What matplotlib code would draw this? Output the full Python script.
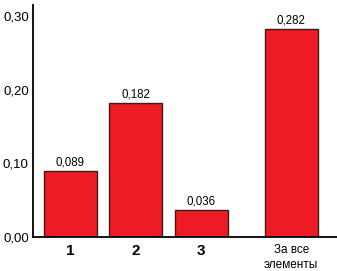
import matplotlib.pyplot as plt

plt.rcParams['font.family'] = ['Liberation Sans', 'DejaVu Sans']

# datos
categorias = ['1', '2', '3', 'За все\nэлементы']
posiciones = [0, 1, 2, 3.37]
valores = [0.089, 0.182, 0.036, 0.282]
etiquetas_y = ['0,00', '0,10', '0,20', '0,30']
ticks_y = [0.0, 0.1, 0.2, 0.3]

fig = plt.figure(figsize=(3.37, 2.71), dpi=100)
ax = fig.add_axes([33/337, 34/271, 304/337, 232/271])

barras = ax.bar(
    posiciones,
    valores,
    width=0.81,
    color='#ED1C24',
    edgecolor='#3a1a1a',
    linewidth=1.0
)

# etiquetas sobre barras
for barra, v in zip(barras, valores):
    ax.text(
        barra.get_x() + barra.get_width()/2,
        v + 0.004,
        f'{v:.3f}'.replace('.', ','),
        ha='center',
        va='bottom',
        fontsize=8.3
    )

ax.set_xlim(-0.57, 4.07)
ax.set_ylim(0, 0.315)

ax.set_yticks(ticks_y)
ax.set_yticklabels(etiquetas_y, fontsize=9.5)
ax.set_xticks(posiciones)
ax.set_xticklabels(categorias)
for i, t in enumerate(ax.get_xticklabels()):
    if i < 3:
        t.set_fontsize(11)
        t.set_fontweight('bold')
    else:
        t.set_fontsize(8.5)
        t.set_linespacing(1.3)

ax.tick_params(axis='both', length=0)
ax.tick_params(axis='y', pad=3)
ax.tick_params(axis='x', pad=5)

for s in ['top', 'right']:
    ax.spines[s].set_visible(False)
for s in ['left', 'bottom']:
    ax.spines[s].set_linewidth(1.3)

fig.savefig('out.png', dpi=100)
